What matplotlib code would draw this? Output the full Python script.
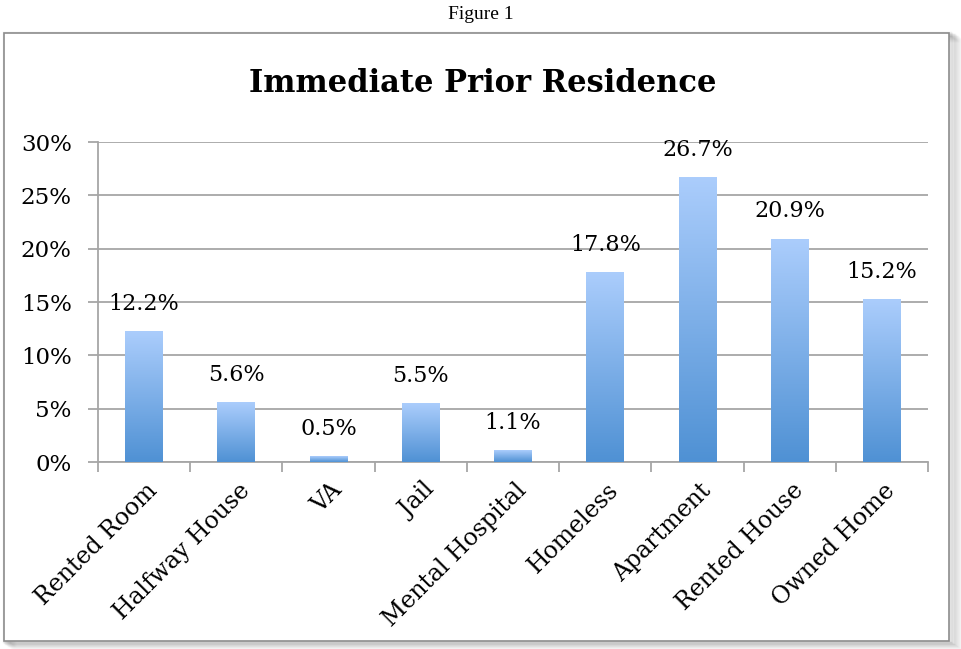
import matplotlib.pyplot as plt
import numpy as np
from matplotlib.colors import LinearSegmentedColormap
from matplotlib.patches import Rectangle

categories = ["Rented Room", "Halfway House", "VA", "Jail", "Mental Hospital",
              "Homeless", "Apartment", "Rented House", "Owned Home"]
values = [12.2, 5.6, 0.5, 5.5, 1.1, 17.8, 26.7, 20.9, 15.2]
value_labels = ["12.2%", "5.6%", "0.5%", "5.5%", "1.1%", "17.8%", "26.7%", "20.9%", "15.2%"]
yticks = [0, 5, 10, 15, 20, 25, 30]

serif = ["DejaVu Serif"]
grid_col = "#a6a6a6"

fig = plt.figure(figsize=(9.61, 6.49), dpi=100)

# outer frame with a soft shadow right and bottom
for i in range(12):
    a = 0.06 * (1 - i / 12)
    fig.patches.append(Rectangle((0.004 + i * 0.0011, 0.012 - i * 0.0011), 0.985, 0.937,
                                 transform=fig.transFigure, facecolor="none",
                                 edgecolor="black", alpha=a, lw=2.5, zorder=0))
fig.patches.append(Rectangle((0.004, 0.013), 0.983, 0.936, transform=fig.transFigure,
                             facecolor="white", edgecolor="#8c8c8c", lw=1.2, zorder=1))

fig.text(0.5, 0.978, "Figure 1", ha="center", va="center", fontsize=14,
         family=["Liberation Serif"])
fig.text(0.502, 0.872, "Immediate Prior Residence", ha="center", va="center",
         fontsize=22, fontweight="bold", family=serif)

ax = fig.add_axes([0.102, 0.288, 0.8637, 0.4931])
ax.set_zorder(2)
x = np.arange(len(categories))
bars = ax.bar(x, values, width=0.41, color="none", zorder=3)

cmap = LinearSegmentedColormap.from_list("bar", ["#4f91d4", "#abcdfc"])
grad = np.linspace(0, 1, 256).reshape(-1, 1)
for b in bars:
    x0, w, h = b.get_x(), b.get_width(), b.get_height()
    ax.imshow(grad, cmap=cmap, origin="lower", aspect="auto",
              extent=(x0, x0 + w, 0, h), zorder=3)

for xi, v, lab in zip(x, values, value_labels):
    ax.annotate(lab, (xi, v), xytext=(0, 12), textcoords="offset points",
                ha="center", va="bottom", fontsize=16, family=serif)

ax.set_xlim(-0.5, len(categories) - 0.5)
ax.set_ylim(0, 30)
ax.set_yticks(yticks)
ax.set_yticklabels([f"{t}%" for t in yticks], fontsize=16.5, family=serif)
ax.yaxis.grid(True, color=grid_col, lw=1.3)
ax.set_axisbelow(True)

ax.set_xticks(x + 0.02)
ax.set_xticklabels(categories, rotation=45, ha="right", rotation_mode="anchor",
                   fontsize=17, family=serif)
ax.tick_params(axis="x", length=0, pad=12)
ax.set_xticks(np.arange(-0.5, len(categories)), minor=True)
ax.tick_params(axis="x", which="minor", length=7, color=grid_col, width=1.3)
ax.tick_params(axis="y", length=7, color=grid_col, width=1.3, pad=12)

for s in ["top", "right"]:
    ax.spines[s].set_visible(False)
for s in ["left", "bottom"]:
    ax.spines[s].set_color(grid_col)
    ax.spines[s].set_linewidth(1.3)

fig.savefig("out.png", dpi=100)
